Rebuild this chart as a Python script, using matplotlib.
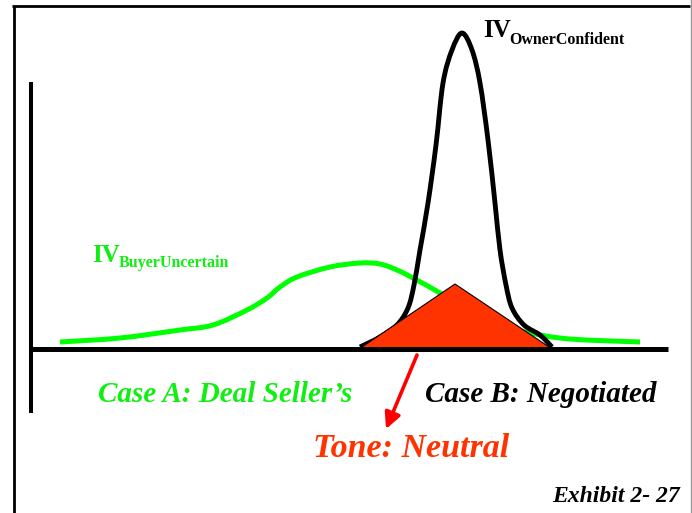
import matplotlib
matplotlib.use("Agg")
import matplotlib.pyplot as plt
import numpy as np
from matplotlib.patches import Polygon, PathPatch
from matplotlib.path import Path

# ---- data (x: position along value axis, y: height above the baseline) ----
buyer_x = [29, 89, 149, 182, 216, 236, 249, 266, 299, 329, 349, 366, 382, 409, 434, 464, 499, 539, 609]
buyer_y = [7, 11, 19, 24, 39, 51, 62, 72, 82, 86, 85, 79, 71, 56, 40, 25, 16, 10, 7]

owner_x = [329, 349, 366, 377, 383, 389, 397, 405, 412, 421, 431,
           441, 449, 457, 464, 469, 475, 481, 493, 509, 521]
owner_y = [2, 12, 24, 41, 64, 99, 146, 204, 266, 299, 316,
           299, 266, 209, 146, 99, 64, 41, 24, 14, 2]

zone_x = [328, 424, 521]
zone_y = [0, 65, 0]

labels = {
    "owner_main": "IV", "owner_sub": "OwnerConfident",
    "buyer_main": "IV", "buyer_sub": "BuyerUncertain",
    "case_a": "Case A: Deal Seller\u2019s",
    "case_b": "Case B: Negotiated",
    "tone": "Tone: Neutral",
    "exhibit": "Exhibit 2- 27",
}

GREEN = "#00FF00"
TXT_GREEN = "#11EE11"
ORANGE = "#FF3300"
FONT = "Liberation Serif"


def smooth_path(xs, ys):
    """Catmull-Rom curve through the given points, as cubic Bezier segments."""
    p = np.column_stack([xs, ys]).astype(float)
    n = len(p)
    verts = [p[0]]
    codes = [Path.MOVETO]
    for i in range(n - 1):
        p0 = p[i - 1] if i > 0 else p[i]
        p1 = p[i]
        p2 = p[i + 1]
        p3 = p[i + 2] if i + 2 < n else p[i + 1]
        c1 = p1 + (p2 - p0) / 6.0
        c2 = p2 - (p3 - p1) / 6.0
        verts += [c1, c2, p2]
        codes += [Path.CURVE4] * 3
    return Path(verts, codes)


fig = plt.figure(figsize=(6.92, 5.13), dpi=100)
ax = fig.add_axes([0, 0, 1, 1])
ax.set_xlim(-31, 661)
ax.set_ylim(-164, 349)
ax.axis("off")

# frame
ax.plot([-19, 659], [343, 343], color="black", lw=2.0, solid_capstyle="butt")
ax.plot([-17, -17], [343, -164], color="black", lw=2.0, solid_capstyle="butt")
ax.plot([659.5, 659.5], [349, -164], color="#999999", lw=1.0)

# axes lines
ax.plot([0, 0], [267, -64], color="black", lw=2.9, solid_capstyle="butt", zorder=5)
ax.plot([0, 637], [0, 0], color="black", lw=3.6, solid_capstyle="butt", zorder=5)

# curves
ax.add_patch(PathPatch(smooth_path(buyer_x, buyer_y), fill=False, edgecolor=GREEN, lw=3.6,
                       joinstyle="round", capstyle="butt", zorder=2))
ax.add_patch(PathPatch(smooth_path(owner_x, owner_y), fill=False, edgecolor="black", lw=3.5,
                       joinstyle="round", capstyle="butt", zorder=3))

# negotiation zone triangle
tri = Polygon(list(zip(zone_x, zone_y)), closed=True, facecolor=ORANGE, edgecolor="black", lw=0.8, zorder=4)
ax.add_patch(tri)

# arrow
ax.annotate("", xy=(355, -80), xytext=(386, -6),
            arrowprops=dict(arrowstyle="-|>", color="red", lw=2.6, mutation_scale=24,
                            shrinkA=0, shrinkB=0), zorder=6)

# labels
ax.text(452, 312, labels["owner_main"], family=FONT, weight="bold", fontsize=18, color="black", ha="left", va="baseline")
ax.text(478, 305, labels["owner_sub"], family=FONT, weight="bold", fontsize=11.5, color="black", ha="left", va="baseline")
ax.text(61, 87, labels["buyer_main"], family=FONT, weight="bold", fontsize=18, color=TXT_GREEN, ha="left", va="baseline")
ax.text(88, 82, labels["buyer_sub"], family=FONT, weight="bold", fontsize=11.5, color=TXT_GREEN, ha="left", va="baseline")

ax.text(67, -53, labels["case_a"], family=FONT, weight="bold", style="italic", fontsize=21, color=TXT_GREEN, ha="left", va="baseline")
ax.text(394, -53, labels["case_b"], family=FONT, weight="bold", style="italic", fontsize=21, color="black", ha="left", va="baseline")
ax.text(282, -108, labels["tone"], family=FONT, weight="bold", style="italic", fontsize=24.5, color=ORANGE, ha="left", va="baseline")
ax.text(649, -153, labels["exhibit"], family=FONT, weight="bold", style="italic", fontsize=17, color="black", ha="right", va="baseline")

fig.savefig("out.png", dpi=100, facecolor="white")
